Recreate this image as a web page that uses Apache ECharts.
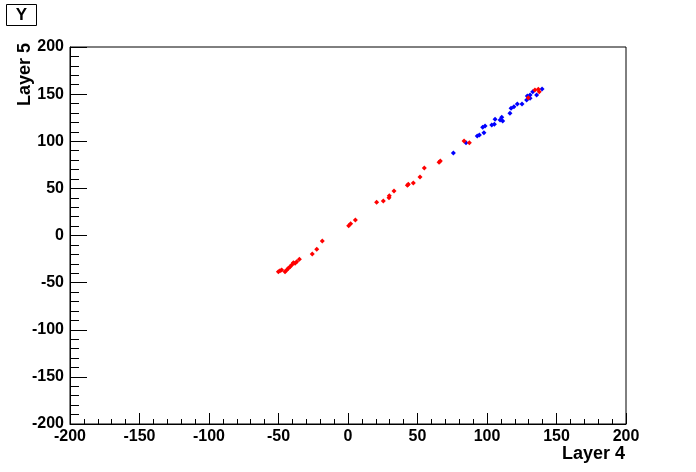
<!DOCTYPE html>
<html>
<head>
<meta charset="utf-8">
<script src="https://cdn.jsdelivr.net/npm/echarts@6/dist/echarts.min.js"></script>
<style>html,body{margin:0;padding:0;background:#fff;}#c{width:696px;height:472px;}</style>
</head>
<body>
<div id="c"></div>
<script>
var xTicks = [-200, -150, -100, -50, 0, 50, 100, 150, 200];
var yTicks = [-200, -150, -100, -50, 0, 50, 100, 150, 200];
var redX = [-50.1,-48.9,-47.7,-45.3,-44.1,-42.9,-41.7,-40.5,-39.3,-38.1,-36.9,-35.0,-25.7,-22.5,-18.5,0.5,1.9,5.3,20.6,25.4,29.5,29.7,33.1,42.7,43.4,47.0,51.8,54.9,65.5,66.4,83.5,87.3,129.7,134.5,136.9,137.6];
var redY = [-38.4,-37.3,-36.6,-38.4,-36.6,-34.8,-33.1,-31.3,-28.8,-29.5,-27.8,-25.3,-19.6,-14.7,-5.8,10.4,12.5,16.4,35.2,36.6,40.1,42.2,47.2,53.3,54.3,55.7,62.1,71.6,77.6,79.0,100.3,98.5,146.2,154.4,155.1,152.6];
var blueX = [75.8,84.9,93.0,94.5,97.8,96.9,98.6,103.4,105.3,105.8,109.4,110.6,111.3,116.5,117.3,119.4,121.8,125.2,128.5,129.0,131.0,131.0,132.9,135.7,139.6];
var blueY = [87.5,98.5,105.6,106.6,109.1,114.8,116.2,117.2,118.0,123.3,122.5,125.4,121.5,129.6,135.0,136.7,139.5,139.5,143.8,148.0,149.1,145.6,152.6,149.1,155.4];

function pairs(xs, ys) { return xs.map(function (v, i) { return [v, ys[i]]; }); }

var chart = echarts.init(document.getElementById('c'), null, { renderer: 'canvas' });
var font = 'Liberation Sans, Arial, Helvetica, sans-serif';
chart.setOption({
  animation: false,
  backgroundColor: '#fff',
  grid: { left: 70, top: 47, width: 556, height: 377, show: true, borderColor: '#000', borderWidth: 1, backgroundColor: '#fff' },
  xAxis: {
    type: 'value', min: xTicks[0], max: xTicks[xTicks.length - 1], interval: 50,
    axisLine: { show: true, onZero: false, lineStyle: { color: '#000', width: 1 } },
    axisTick: { show: true, inside: true, length: 11, lineStyle: { color: '#000' } },
    minorTick: { show: true, splitNumber: 5, length: 5, lineStyle: { color: '#000' } },
    splitLine: { show: false },
    axisLabel: { color: '#000', fontWeight: 'bold', fontSize: 16, fontFamily: font, margin: 5 }
  },
  yAxis: {
    type: 'value', min: yTicks[0], max: yTicks[yTicks.length - 1], interval: 50,
    axisLine: { show: true, onZero: false, lineStyle: { color: '#000', width: 1 } },
    axisTick: { show: true, inside: true, length: 17, lineStyle: { color: '#000' } },
    minorTick: { show: true, splitNumber: 5, length: 9, lineStyle: { color: '#000' } },
    splitLine: { show: false },
    axisLabel: { color: '#000', fontWeight: 'bold', fontSize: 16, fontFamily: font, margin: 6 }
  },
  graphic: [
    { type: 'rect', shape: { x: 6.5, y: 4.5, width: 30, height: 21 }, style: { fill: '#fff', stroke: '#000', lineWidth: 1 } },
    { type: 'text', x: 21.5, y: 15, style: { text: 'Y', font: 'bold 17px ' + font, fill: '#000', textAlign: 'center', textVerticalAlign: 'middle' } },
    { type: 'text', x: 625, y: 454, style: { text: 'Layer 4', font: 'bold 18px ' + font, fill: '#000', textAlign: 'right', textVerticalAlign: 'middle' } },
    { type: 'text', x: 25, y: 43, rotation: Math.PI / 2, style: { text: 'Layer 5', font: 'bold 18px ' + font, fill: '#000', textAlign: 'right', textVerticalAlign: 'middle' } }
  ],
  series: [
    { type: 'scatter', name: 'blue', data: pairs(blueX, blueY), symbol: 'diamond', symbolSize: 5, itemStyle: { color: '#0000ff', opacity: 1 } },
    { type: 'scatter', name: 'red', data: pairs(redX, redY), symbol: 'diamond', symbolSize: 5, itemStyle: { color: '#ff0000', opacity: 1 } }
  ]
});
</script>
</body>
</html>
